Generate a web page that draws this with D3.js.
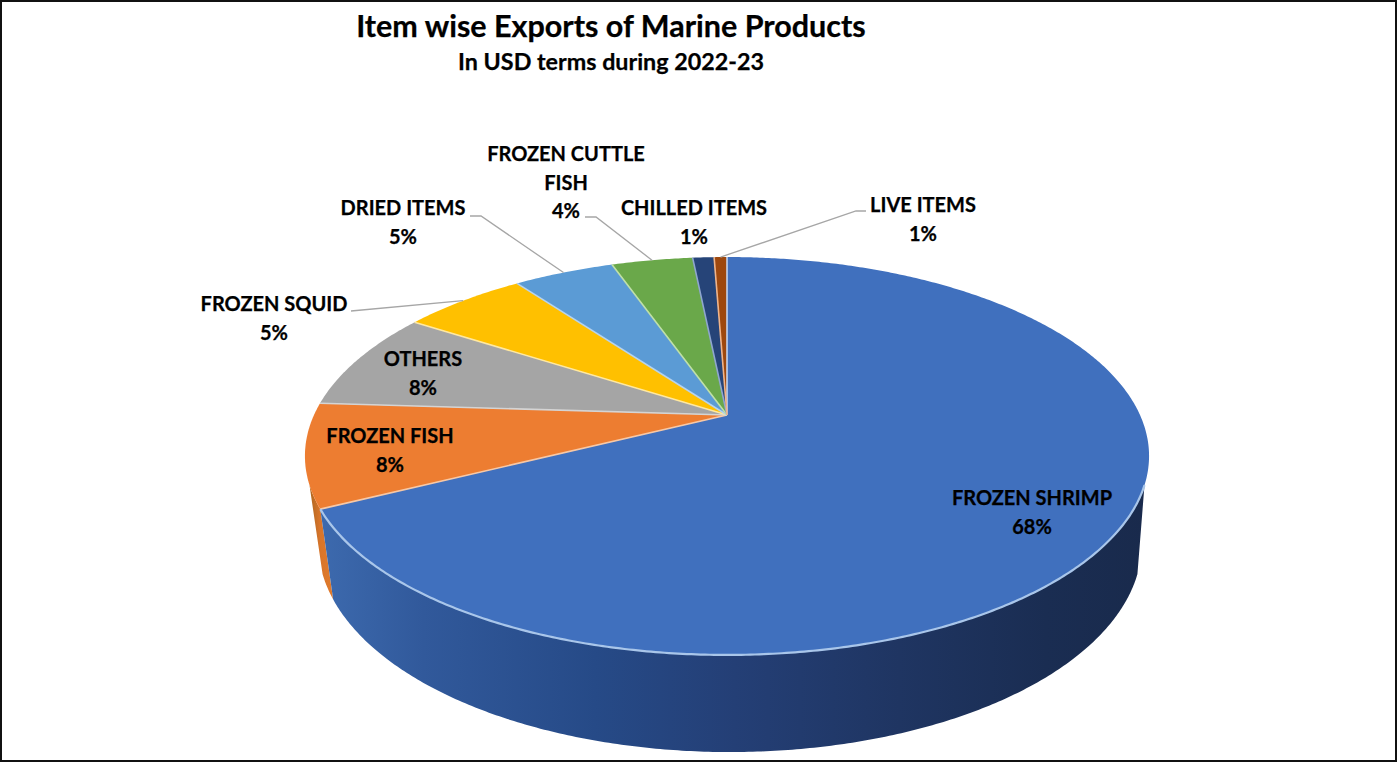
<!DOCTYPE html>
<html>
<head>
<meta charset="utf-8">
<script src="https://cdn.jsdelivr.net/npm/d3@7/dist/d3.min.js"></script>
<style>
html,body{margin:0;padding:0;background:#fff;overflow:hidden}
text{font-family:Lato,"Open Sans",sans-serif;font-weight:700;fill:#000;stroke:#000;stroke-width:0.25px}
</style>
</head>
<body>
<svg id="chart" width="1397" height="763"></svg>
<script>
const categories = ["FROZEN SHRIMP","FROZEN FISH","OTHERS","FROZEN SQUID","DRIED ITEMS","FROZEN CUTTLE FISH","CHILLED ITEMS","LIVE ITEMS"];
const shares = [67.6, 8.4, 8.1, 5.8, 4.7, 3.8, 1.0, 0.6];
const percentLabels = ["68%","8%","8%","5%","5%","4%","1%","1%"];
const topColors = ["#4070be","#ed7d31","#a5a5a5","#ffc000","#5b9bd5","#6aa84a","#264478","#9e480e"];
const edgeColors = ["#c4d4ee","#f7c8a6","#d4d4d4","#ffe8a0","#b5d3ee","#bfe0a8","#8fa6cf","#f0b48a"];
const titleText = "Item wise Exports of Marine Products";
const subtitleText = "In USD terms during 2022-23";

// label layout: centre x, first-line baseline, lines
const labelLayout = [
  {x:1032,y:505,lines:["FROZEN SHRIMP"]},
  {x:390,y:443,lines:["FROZEN FISH"]},
  {x:423,y:366,lines:["OTHERS"]},
  {x:274,y:311,lines:["FROZEN SQUID"]},
  {x:403,y:215,lines:["DRIED ITEMS"]},
  {x:566,y:161,lines:["FROZEN CUTTLE","FISH"]},
  {x:694,y:215,lines:["CHILLED ITEMS"]},
  {x:923,y:212,lines:["LIVE ITEMS"]}
];
// leader elbows for the labels that sit outside the pie
const leaders = [
  {i:3,pts:[[351,311]]},
  {i:4,pts:[[470,216],[481,216]]},
  {i:5,pts:[[585,217],[596,217]]},
  {i:7,pts:[[866,211],[856,211]]}
];

const svg = d3.select("#chart");
const k = 0.206;
const deg = Math.PI/180;
const TOP = {cx:727,cy:415,B:413,A:190.5};
const BASE = {cx:730,cy:500.8,B:403,A:199.5};

function project(a, plane, r=1){
  const u = r*Math.sin(a), v = r*Math.cos(a), s = 1/(1+k*v);
  return [plane.cx + plane.B*u*s, plane.cy - plane.A*v*s];
}
const line = d3.line();
const arcPts = (a0,a1,plane) => {
  const n = Math.max(2, Math.ceil(Math.abs(a1-a0)/(0.5*deg)));
  return d3.range(n+1).map(i => project(a0+(a1-a0)*i/n, plane));
};

const arcs = d3.pie().sort(null).value(d=>d).startAngle(0).endAngle(2*Math.PI)(shares);

// gradients
const defs = svg.append("defs");
const g1 = defs.append("linearGradient").attr("id","wallBlue")
  .attr("gradientUnits","userSpaceOnUse").attr("x1",325).attr("x2",1145).attr("y1",0).attr("y2",0);
[[0,"#3c69ad"],[0.12,"#31599b"],[0.33,"#264a87"],[0.5,"#243f76"],[0.7,"#1f3562"],[0.88,"#1a2d52"],[1,"#192a4c"]]
  .forEach(s=>g1.append("stop").attr("offset",s[0]).attr("stop-color",s[1]));
const g2 = defs.append("linearGradient").attr("id","wallOrange")
  .attr("gradientUnits","userSpaceOnUse").attr("x1",308).attr("x2",332).attr("y1",0).attr("y2",0);
[[0,"#a8641f"],[0.5,"#d8752a"],[1,"#e07a2c"]]
  .forEach(s=>g2.append("stop").attr("offset",s[0]).attr("stop-color",s[1]));

svg.append("rect").attr("x",1).attr("y",1).attr("width",1395).attr("height",760)
  .attr("fill","#fff").attr("stroke","#111").attr("stroke-width",2);

// side walls
const wallEnd = arcs[0].endAngle;
const wall = (a0,a1,fill) => svg.append("path")
  .attr("d", line(arcPts(a0,a1,TOP).concat(arcPts(a1,a0,BASE)))+"Z")
  .attr("fill",fill);
wall(wallEnd, 250*deg, "url(#wallOrange)");
wall(110*deg, wallEnd, "url(#wallBlue)");

// top face
svg.append("g").selectAll("path").data(arcs).join("path")
  .attr("d", d => line([project(0,TOP,0)].concat(arcPts(d.startAngle,d.endAngle,TOP)))+"Z")
  .attr("fill",(d,i)=>topColors[i]);

// pale seams between slices
svg.append("g").selectAll("path").data(arcs).join("path")
  .attr("d", d => line([project(0,TOP,0), project(d.startAngle,TOP)]))
  .attr("fill","none")
  .attr("stroke",(d,i)=>edgeColors[i])
  .attr("stroke-width",1.6);

// rim highlight on the shrimp front edge
svg.append("path").attr("d", line(arcPts(110*deg, wallEnd, TOP)))
  .attr("fill","none").attr("stroke","#a9c6ea").attr("stroke-width",2.2);

// leaders
svg.append("g").selectAll("path").data(leaders).join("path")
  .attr("d", d => {
    const a = (arcs[d.i].startAngle+arcs[d.i].endAngle)/2;
    return line(d.pts.concat([project(a,TOP)]));
  })
  .attr("fill","none").attr("stroke","#a6a6a6").attr("stroke-width",1.3);

// titles
svg.append("text").attr("x",611).attr("y",37).attr("text-anchor","middle")
  .attr("font-size",30.5).text(titleText);
svg.append("text").attr("x",611).attr("y",70).attr("text-anchor","middle")
  .attr("font-size",23.3).text(subtitleText);

// data labels
const lh = 28.5;
const lab = svg.append("g").selectAll("text").data(labelLayout).join("text")
  .attr("text-anchor","middle").attr("font-size",20);
lab.each(function(d,i){
  const t = d3.select(this);
  d.lines.concat([percentLabels[i]]).forEach((s,j)=>{
    t.append("tspan").attr("x",d.x).attr("y",d.y+j*lh).text(s);
  });
});
</script>
</body>
</html>
